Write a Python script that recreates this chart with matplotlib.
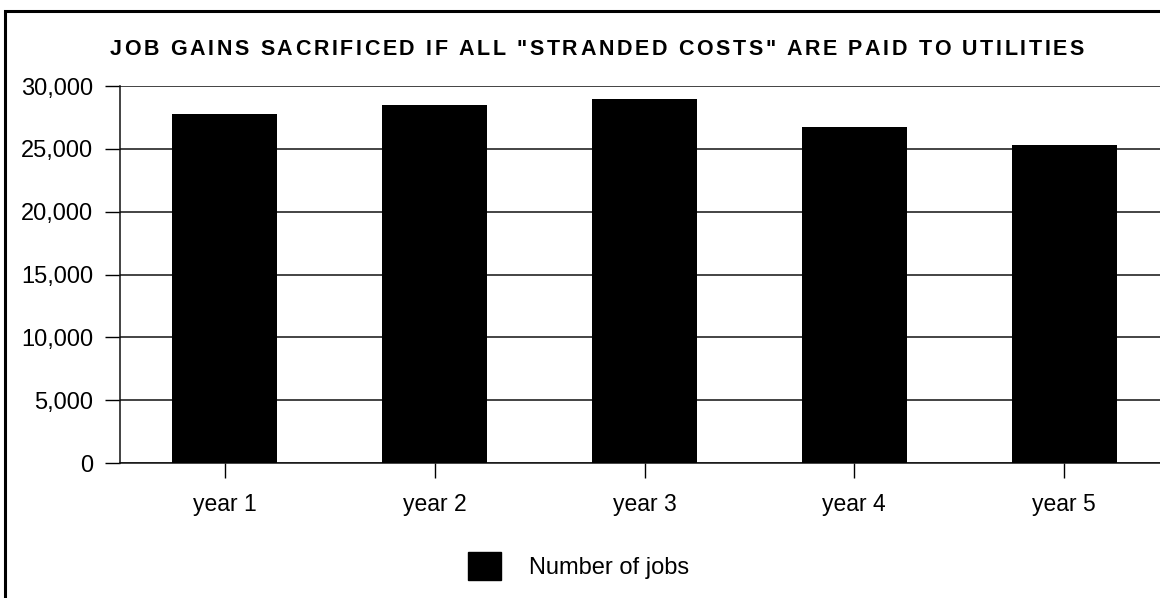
import matplotlib
matplotlib.use('Agg')
import matplotlib.pyplot as plt
from matplotlib.patches import Patch, Rectangle
from matplotlib.font_manager import FontProperties, findfont, get_font
from matplotlib.ticker import FuncFormatter

title = 'JOB GAINS SACRIFICED IF ALL "STRANDED COSTS" ARE PAID TO UTILITIES'
years = ['year 1', 'year 2', 'year 3', 'year 4', 'year 5']
jobs = [27800, 28450, 29000, 26700, 25300]
series_name = 'Number of jobs'

plt.rcParams['font.family'] = ['Liberation Sans', 'DejaVu Sans']

W, H = 1160, 598
fig = plt.figure(figsize=(W / 100, H / 100), dpi=100)
ax = fig.add_axes([120 / W, 1 - 463 / H, 1049 / W, 377 / H])

ax.bar(range(len(years)), jobs, width=0.5, color='black', zorder=3)
ax.set_xlim(-0.5, 4.5)
ax.set_ylim(0, 30000)
ax.set_yticks(range(0, 30001, 5000))
ax.yaxis.set_major_formatter(FuncFormatter(lambda v, p: f'{int(v):,}'))
ax.set_xticks(range(len(years)))
ax.set_xticklabels(years)
ax.grid(axis='y', color='#111111', linewidth=1.1, zorder=0)
ax.tick_params(axis='y', length=10.8, width=1, labelsize=17, pad=8.5)
ax.tick_params(axis='x', length=10.8, width=1, labelsize=16.5, pad=11)
for s in ['top', 'right']:
    ax.spines[s].set_visible(False)
for s in ['left', 'bottom']:
    ax.spines[s].set_linewidth(1.1)
    ax.spines[s].set_color('#111111')

# title is letter-spaced in the original, so place it char by char
fp = FontProperties(family='Liberation Sans', weight='bold', size=15.5)
font = get_font(findfont(fp))
font.set_size(15.5, 100)
adv = [font.load_char(ord(c)).linearHoriAdvance / 65536 for c in title]
x0, x1 = 110, 1084
track = (x1 - x0 - sum(adv)) / (len(title) - 1)
x = x0
for c, a in zip(title, adv):
    if c != ' ':
        fig.text(x / W, 1 - 49.5 / H, c, fontproperties=fp, va='center', ha='left')
    x += a + track

fig.legend(handles=[Patch(facecolor='black', edgecolor='black')],
           labels=[series_name], loc='center left',
           bbox_to_anchor=(468 / W, 1 - 566 / H), frameon=False,
           fontsize=17, handlelength=1.4, handleheight=1.45,
           handletextpad=1.2, borderpad=0, borderaxespad=0)

# outer frame of the scanned chart
fig.add_artist(Rectangle((4.5 / W, -0.1), 1.2, 1.1 - 11.5 / H, transform=fig.transFigure,
                         fill=False, edgecolor='black', linewidth=2.2))

fig.savefig('out.png', dpi=100)
